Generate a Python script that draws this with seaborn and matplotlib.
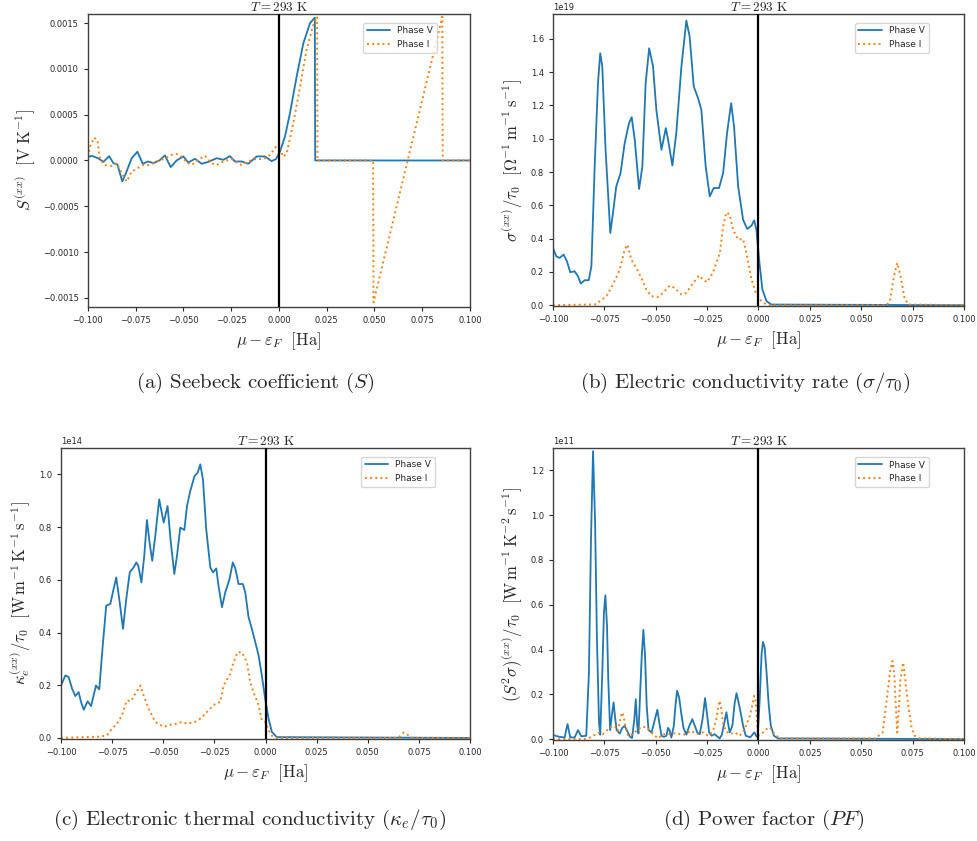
import numpy as np
import matplotlib
matplotlib.use("Agg")
import matplotlib.pyplot as plt
import seaborn as sns

# ---- data (x: mu - eps_F in Ha) ----
mu_ticks = [-0.100, -0.075, -0.050, -0.025, 0.000, 0.025, 0.050, 0.075, 0.100]

# (a) Seebeck coefficient, units 1e-4 V/K
seebeck_mu_v = [
    -0.1000, -0.0979, -0.0944, -0.0918, -0.0888, -0.0866, -0.0845, -0.0819, -0.0800, -0.0770,
    -0.0740, -0.0712, -0.0683, -0.0657, -0.0625, -0.0596, -0.0566, -0.0535, -0.0500, -0.0474,
    -0.0439, -0.0404, -0.0369, -0.0325, -0.0291, -0.0256, -0.0230, -0.0195, -0.0160, -0.0116,
    -0.0073, -0.0038, -0.0015, 0.0006, 0.0032, 0.0058, 0.0093, 0.0128, 0.0163, 0.0188,
    0.0190, 0.1000]
seebeck_v = [
    0.36, 0.51, 0.22, -0.15, 0.47, -0.29, -0.44, -2.29, -1.38, 0.25,
    0.95, -0.36, -0.11, -0.29, 0.00, 0.55, -0.73, 0.00, 0.44, -0.22,
    0.18, -0.36, -0.15, 0.25, 0.07, 0.47, -0.11, -0.11, -0.36, 0.44,
    0.44, -0.07, 0.15, 0.98, 2.62, 5.16, 9.16, 12.8, 15.0, 15.6,
    0.00, 0.00]
seebeck_mu_i = [
    -0.1000, -0.0988, -0.0967, -0.0949, -0.0936, -0.0909, -0.0875, -0.0848, -0.0822, -0.0796,
    -0.0770, -0.0735, -0.0709, -0.0674, -0.0639, -0.0604, -0.0561, -0.0535, -0.0508, -0.0482,
    -0.0456, -0.0421, -0.0386, -0.0352, -0.0325, -0.0291, -0.0247, -0.0221, -0.0195, -0.0160,
    -0.0125, -0.0081, -0.0047, -0.0015, 0.0006, 0.0023, 0.0041, 0.0076, 0.0111, 0.0145,
    0.0180, 0.0200, 0.0202, 0.0493, 0.0495, 0.0855, 0.0857, 0.1000]
seebeck_i = [
    0.4, 1.5, 2.5, 2.2, 0.1, -0.5, -0.6, -0.3, -1.4, -2.3,
    -1.2, -0.8, -0.5, -0.5, -0.1, 0.15, 0.6, 0.7, 0.4, -0.2,
    -0.5, 0.1, 0.5, -0.3, -0.5, -0.1, 0.15, -0.2, -0.5, -0.1,
    0.15, 0.15, 0.6, 1.5, 1.2, 0.4, 0.8, 4.1, 8.1, 12.1,
    14.8, 15.7, 0.0, 0.0, -15.5, 15.7, 0.0, 0.0]
seebeck_ticks = [-15, -10, -5, 0, 5, 10, 15]

# (b) electric conductivity rate, units 1e19
sigma_mu_v = [
    -0.1000, -0.0984, -0.0968, -0.0948, -0.0932, -0.0916, -0.0895, -0.0878, -0.0865, -0.0846,
    -0.0826, -0.0813, -0.0797, -0.0781, -0.0770, -0.0760, -0.0744, -0.0721, -0.0708, -0.0692,
    -0.0671, -0.0651, -0.0630, -0.0617, -0.0602, -0.0581, -0.0565, -0.0549, -0.0532, -0.0513,
    -0.0497, -0.0472, -0.0451, -0.0440, -0.0419, -0.0400, -0.0375, -0.0351, -0.0335, -0.0315,
    -0.0294, -0.0278, -0.0257, -0.0237, -0.0218, -0.0192, -0.0172, -0.0153, -0.0133, -0.0119,
    -0.0099, -0.0075, -0.0055, -0.0034, -0.0021, -0.0010, 0.0003, 0.0019, 0.0039, 0.0063,
    0.1000]
sigma_v = [
    0.344, 0.294, 0.284, 0.304, 0.264, 0.198, 0.204, 0.174, 0.130, 0.150,
    0.150, 0.234, 0.834, 1.334, 1.514, 1.434, 0.934, 0.434, 0.554, 0.714,
    0.794, 0.974, 1.094, 1.130, 0.994, 0.698, 0.834, 1.334, 1.544, 1.434,
    1.174, 0.934, 1.064, 0.994, 0.840, 1.034, 1.434, 1.710, 1.614, 1.314,
    1.244, 1.174, 0.834, 0.654, 0.704, 0.704, 0.794, 1.034, 1.214, 1.074,
    0.714, 0.514, 0.458, 0.478, 0.510, 0.454, 0.274, 0.094, 0.024, 0.004,
    0.000]
sigma_mu_i = [
    -0.1000, -0.0790, -0.0773, -0.0740, -0.0708, -0.0675, -0.0651, -0.0638, -0.0619, -0.0594,
    -0.0570, -0.0546, -0.0521, -0.0489, -0.0464, -0.0432, -0.0408, -0.0375, -0.0351, -0.0318,
    -0.0289, -0.0270, -0.0250, -0.0221, -0.0188, -0.0172, -0.0156, -0.0140, -0.0124, -0.0099,
    -0.0075, -0.0059, -0.0034, -0.0013, 0.0006, 0.0031, 0.0055, 0.0623, 0.0639, 0.0659,
    0.0675, 0.0691, 0.0712, 0.0733, 0.1000]
sigma_i = [
    0.000, 0.005, 0.024, 0.054, 0.124, 0.214, 0.334, 0.364, 0.274, 0.224,
    0.164, 0.094, 0.054, 0.050, 0.074, 0.118, 0.104, 0.064, 0.074, 0.134,
    0.178, 0.154, 0.138, 0.198, 0.314, 0.474, 0.558, 0.544, 0.454, 0.394,
    0.398, 0.314, 0.154, 0.074, 0.034, 0.010, 0.000, 0.000, 0.024, 0.174,
    0.254, 0.174, 0.034, 0.004, 0.000]
sigma_ticks = [0.0, 0.2, 0.4, 0.6, 0.8, 1.0, 1.2, 1.4, 1.6]

# (c) electronic thermal conductivity, units 1e14
kappa_mu_v = [
    -0.1000, -0.0979, -0.0963, -0.0946, -0.0930, -0.0914, -0.0902, -0.0889, -0.0870, -0.0853,
    -0.0829, -0.0813, -0.0796, -0.0779, -0.0759, -0.0743, -0.0730, -0.0713, -0.0697, -0.0681,
    -0.0664, -0.0645, -0.0632, -0.0622, -0.0607, -0.0593, -0.0580, -0.0567, -0.0554, -0.0539,
    -0.0520, -0.0498, -0.0479, -0.0463, -0.0446, -0.0433, -0.0417, -0.0397, -0.0384, -0.0368,
    -0.0347, -0.0332, -0.0319, -0.0306, -0.0290, -0.0270, -0.0257, -0.0241, -0.0230, -0.0213,
    -0.0197, -0.0176, -0.0160, -0.0147, -0.0132, -0.0111, -0.0099, -0.0083, -0.0067, -0.0050,
    -0.0034, -0.0018, -0.0002, 0.0015, 0.0031, 0.0055, 0.1000]
kappa_v = [
    0.199, 0.237, 0.231, 0.187, 0.159, 0.174, 0.136, 0.107, 0.139, 0.121,
    0.199, 0.184, 0.351, 0.502, 0.508, 0.565, 0.609, 0.514, 0.414, 0.527,
    0.628, 0.647, 0.666, 0.653, 0.590, 0.691, 0.827, 0.741, 0.672, 0.767,
    0.905, 0.817, 0.880, 0.741, 0.622, 0.691, 0.798, 0.789, 0.880, 0.937,
    0.994, 1.006, 1.038, 0.981, 0.792, 0.647, 0.628, 0.643, 0.578, 0.496,
    0.552, 0.603, 0.666, 0.641, 0.584, 0.584, 0.552, 0.458, 0.414, 0.363,
    0.313, 0.237, 0.149, 0.073, 0.023, 0.003, 0.000]
kappa_mu_i = [
    -0.1000, -0.0808, -0.0775, -0.0751, -0.0726, -0.0702, -0.0678, -0.0658, -0.0637, -0.0612,
    -0.0596, -0.0572, -0.0539, -0.0498, -0.0466, -0.0433, -0.0409, -0.0384, -0.0344, -0.0319,
    -0.0278, -0.0246, -0.0221, -0.0205, -0.0173, -0.0156, -0.0137, -0.0116, -0.0091, -0.0075,
    -0.0059, -0.0034, -0.0018, -0.0002, 0.0015, 0.0031, 0.0055, 0.0650, 0.0674, 0.0699,
    0.0723, 0.1000]
kappa_i = [
    0.000, 0.005, 0.010, 0.035, 0.054, 0.086, 0.142, 0.139, 0.168, 0.199,
    0.161, 0.111, 0.061, 0.042, 0.050, 0.054, 0.061, 0.054, 0.061, 0.073,
    0.105, 0.130, 0.136, 0.199, 0.243, 0.288, 0.325, 0.325, 0.288, 0.212,
    0.174, 0.124, 0.067, 0.061, 0.029, 0.008, 0.000, 0.000, 0.020, 0.010,
    0.000, 0.000]
kappa_ticks = [0.0, 0.2, 0.4, 0.6, 0.8, 1.0]

# (d) power factor, units 1e11
pf_mu_v = [
    -0.1000, -0.0968, -0.0943, -0.0936, -0.0929, -0.0922, -0.0916, -0.0895, -0.0878, -0.0862,
    -0.0838, -0.0825, -0.0815, -0.0805, -0.0795, -0.0786, -0.0776, -0.0770, -0.0760, -0.0752,
    -0.0745, -0.0737, -0.0731, -0.0722, -0.0713, -0.0705, -0.0697, -0.0690, -0.0675, -0.0663,
    -0.0651, -0.0638, -0.0625, -0.0615, -0.0604, -0.0597, -0.0590, -0.0584, -0.0575, -0.0568,
    -0.0560, -0.0552, -0.0544, -0.0535, -0.0520, -0.0505, -0.0492, -0.0482, -0.0472, -0.0460,
    -0.0448, -0.0440, -0.0433, -0.0424, -0.0412, -0.0404, -0.0396, -0.0386, -0.0375, -0.0365,
    -0.0351, -0.0336, -0.0322, -0.0310, -0.0298, -0.0286, -0.0272, -0.0260, -0.0250, -0.0240,
    -0.0228, -0.0213, -0.0198, -0.0189, -0.0178, -0.0167, -0.0156, -0.0148, -0.0140, -0.0127,
    -0.0116, -0.0107, -0.0097, -0.0085, -0.0075, -0.0062, -0.0040, -0.0020, -0.0010, -0.0004,
    0.0006, 0.0015, 0.0022, 0.0030, 0.0039, 0.0050, 0.0060, 0.0075, 0.0095, 0.1000]
pf_v = [
    0.018, 0.010, 0.007, 0.040, 0.067, 0.035, 0.008, 0.007, 0.040, 0.012,
    0.015, 0.297, 0.892, 1.286, 0.967, 0.446, 0.074, 0.020, 0.297, 0.565,
    0.642, 0.506, 0.268, 0.040, 0.110, 0.164, 0.090, 0.040, 0.025, 0.050,
    0.059, 0.035, 0.010, 0.005, 0.090, 0.178, 0.060, 0.025, 0.223, 0.372,
    0.488, 0.372, 0.150, 0.040, 0.030, 0.085, 0.131, 0.070, 0.015, 0.010,
    0.015, 0.050, 0.040, 0.007, 0.059, 0.150, 0.216, 0.185, 0.110, 0.050,
    0.020, 0.060, 0.089, 0.060, 0.030, 0.022, 0.090, 0.183, 0.110, 0.030,
    0.015, 0.022, 0.010, 0.003, 0.020, 0.070, 0.120, 0.070, 0.030, 0.060,
    0.160, 0.205, 0.165, 0.110, 0.060, 0.015, 0.008, 0.030, 0.012, 0.015,
    0.178, 0.380, 0.434, 0.410, 0.300, 0.150, 0.060, 0.015, 0.003, 0.000]
pf_mu_i = [
    -0.1000, -0.0850, -0.0821, -0.0789, -0.0773, -0.0757, -0.0724, -0.0700, -0.0684, -0.0672,
    -0.0664, -0.0657, -0.0648, -0.0635, -0.0610, -0.0586, -0.0562, -0.0537, -0.0513, -0.0489,
    -0.0464, -0.0432, -0.0400, -0.0367, -0.0326, -0.0302, -0.0270, -0.0245, -0.0221, -0.0205,
    -0.0195, -0.0189, -0.0182, -0.0172, -0.0159, -0.0140, -0.0115, -0.0091, -0.0067, -0.0042,
    -0.0028, -0.0021, -0.0014, -0.0008, -0.0002, 0.0014, 0.0039, 0.0055, 0.0079, 0.0104,
    0.0570, 0.0604, 0.0626, 0.0640, 0.0652, 0.0660, 0.0668, 0.0675, 0.0682, 0.0690,
    0.0704, 0.0716, 0.0729, 0.0745, 0.0760, 0.0785, 0.1000]
pf_i = [
    0.000, 0.000, 0.007, 0.022, 0.030, 0.022, 0.052, 0.059, 0.037, 0.090,
    0.119, 0.105, 0.060, 0.015, 0.022, 0.045, 0.057, 0.045, 0.022, 0.003,
    0.022, 0.022, 0.027, 0.018, 0.037, 0.022, 0.030, 0.015, 0.037, 0.090,
    0.150, 0.171, 0.140, 0.070, 0.037, 0.022, 0.030, 0.015, 0.045, 0.104,
    0.160, 0.193, 0.170, 0.090, 0.015, 0.022, 0.045, 0.052, 0.022, 0.003,
    0.003, 0.030, 0.193, 0.300, 0.349, 0.300, 0.150, 0.030, 0.120, 0.260,
    0.342, 0.250, 0.149, 0.050, 0.015, 0.003, 0.000]
pf_ticks = [0.0, 0.2, 0.4, 0.6, 0.8, 1.0, 1.2]

# ---- style ----
sns.set_style("ticks")
plt.rcParams["font.family"] = ["DejaVu Sans"]
plt.rcParams["mathtext.fontset"] = "cm"
plt.rcParams["axes.edgecolor"] = "0.25"
plt.rcParams["axes.linewidth"] = 1.0

BLUE = "#1f77b4"
ORANGE = "#ff7f0e"

fig = plt.figure(figsize=(9.78, 8.41), dpi=100)


def draw_panel(rect, mu_v, val_v, mu_i, val_i, scale, ticks, ylim, ylabel):
    ax = fig.add_axes(rect)
    sns.lineplot(x=mu_v, y=np.array(val_v) * scale, ax=ax, color=BLUE,
                 linewidth=1.3, label="Phase V", estimator=None, sort=False)
    sns.lineplot(x=mu_i, y=np.array(val_i) * scale, ax=ax, color=ORANGE,
                 linewidth=1.4, linestyle=":", label="Phase I",
                 estimator=None, sort=False)
    ax.axvline(0, color="k", linewidth=1.6, zorder=3)
    ax.set_xlim(-0.1, 0.1)
    ax.set_xticks(mu_ticks)
    ax.set_yticks(np.array(ticks) * scale)
    ax.set_ylim(ylim[0] * scale, ylim[1] * scale)
    ax.tick_params(labelsize=6, length=3, width=0.8, colors="0.15")
    ax.yaxis.get_offset_text().set_fontsize(6)
    for sp in ax.spines.values():
        sp.set_visible(True)
    ax.set_xlabel(r"$\mu - \varepsilon_F\ \ [\mathrm{Ha}]$", fontsize=12)
    ax.set_ylabel(ylabel, fontsize=12)
    ax.set_title(r"$T = 293\ \mathrm{K}$", fontsize=9.5, pad=1.5)
    ax.legend(loc="upper right", bbox_to_anchor=(0.925, 0.985), fontsize=6.5,
              handlelength=2.6, frameon=True)
    return ax


draw_panel([0.0897, 0.6350, 0.3909, 0.3484], seebeck_mu_v, seebeck_v,
           seebeck_mu_i, seebeck_i, 1e-4, seebeck_ticks,
           (-16.0, 16.0), r"$S^{(xx)}\ \ [\mathrm{V\ K^{-1}}]$")
draw_panel([0.5654, 0.6361, 0.4203, 0.3473], sigma_mu_v, sigma_v,
           sigma_mu_i, sigma_i, 1e19, sigma_ticks, (-0.005, 1.75),
           r"$\sigma^{(xx)}/\tau_0\ \ [\Omega^{-1}\,\mathrm{m^{-1}\,s^{-1}}]$")
draw_panel([0.0624, 0.1213, 0.4182, 0.3460], kappa_mu_v, kappa_v,
           kappa_mu_i, kappa_i, 1e14, kappa_ticks, (-0.004, 1.10),
           r"$\kappa_e^{(xx)}/\tau_0\ \ [\mathrm{W\,m^{-1}\,K^{-1}\,s^{-1}}]$")
draw_panel([0.5654, 0.1201, 0.4203, 0.3472], pf_mu_v, pf_v,
           pf_mu_i, pf_i, 1e11, pf_ticks, (-0.004, 1.30),
           r"$(S^2\sigma)^{(xx)}/\tau_0\ \ [\mathrm{W\,m^{-1}\,K^{-2}\,s^{-1}}]$")

captions = [
    (255, 383, r"(a) Seebeck coefficient $(S)$"),
    (745, 383, r"(b) Electric conductivity rate $(\sigma/\tau_0)$"),
    (250, 820, r"(c) Electronic thermal conductivity $(\kappa_e/\tau_0)$"),
    (764, 820, r"(d) Power factor $(PF)$"),
]
for cx, cy, txt in captions:
    fig.text(cx / 978, 1 - cy / 841, txt, ha="center", va="center",
             fontsize=15, family="cmr10")

fig.savefig("out.png", dpi=100)
